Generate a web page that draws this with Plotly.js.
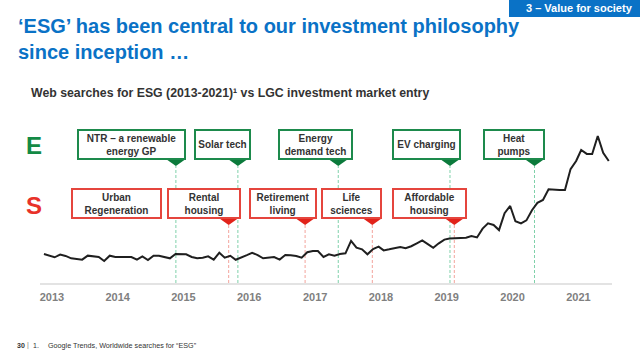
<!DOCTYPE html>
<html><head><meta charset="utf-8">
<script src="https://cdn.plot.ly/plotly-3.0.1.min.js"></script>
<style>html,body{margin:0;padding:0;background:#fff}#c{width:640px;height:351px}</style>
</head><body><div id="c"></div>
<script>
// Google Trends worldwide searches for "ESG", monthly Jan 2013 – Aug 2021 (index, peak = 100)
const startYear = 2013;
const esg2013 = [19.7, 18.6, 17.5, 19.3, 18.4, 16.8, 16.3, 15.9, 18.6, 18.1, 17.7, 15.0];
const esg2014 = [18.6, 17.7, 17.7, 17.7, 17.7, 15.9, 18.1, 15.6, 18.6, 18.6, 17.7, 16.8];
const esg2015 = [19.7, 19.7, 19.5, 17.7, 16.8, 17.2, 18.1, 15.9, 20.6, 17.2, 18.5, 15.8];
const esg2016 = [17.2, 19.0, 20.6, 19.0, 16.8, 17.5, 17.7, 15.9, 19.0, 18.8, 18.4, 17.2];
const esg2017 = [20.9, 21.8, 21.8, 17.7, 19.5, 18.6, 19.7, 20.2, 28.6, 24.0, 22.9, 19.5];
const esg2018 = [23.1, 24.7, 22.2, 22.9, 23.6, 24.5, 23.6, 25.0, 27.0, 29.0, 26.5, 24.0];
const esg2019 = [27.0, 29.5, 30.2, 30.5, 30.6, 30.8, 32.0, 31.0, 37.0, 40.6, 39.5, 36.0];
const esg2020 = [47.5, 52.4, 42.0, 40.5, 42.6, 49.5, 54.5, 56.5, 63.7, 63.3, 63.3, 63.3];
const esg2021 = [77.5, 83.0, 90.5, 87.8, 87.8, 100, 88.5, 83.0];

const yearLabels = ['2013','2014','2015','2016','2017','2018','2019','2020','2021'];

// LGC investment market entries
const eventNames = ['NTR – a renewable<br>energy GP','Solar tech','Energy<br>demand tech','EV charging','Heat<br>pumps',
                    'Urban<br>Regeneration','Rental<br>housing','Retirement<br>living','Life<br>sciences','Affordable<br>housing'];
const eventRows  = ['E','E','E','E','E','S','S','S','S','S'];
const eventDates = ['2015-01-03','2015-12-13','2017-06-22','2019-03-04','2020-06-15',
                    null,'2015-10-23','2016-12-20','2017-12-28','2019-03-28'];

// ---- build series ----
const values = [].concat(esg2013, esg2014, esg2015, esg2016, esg2017, esg2018, esg2019, esg2020, esg2021);
const dates = values.map((v, i) => {
  const y = startYear + Math.floor(i / 12), m = i % 12 + 1;
  return y + '-' + String(m).padStart(2, '0') + '-01';
});

// ---- layout helpers (pixel -> paper) ----
const L = 40, R = 28, T = 120, B = 68, PW = 640 - L - R, PH = 351 - T - B;
const px = p => (p - L) / PW;
const py = p => (351 - B - p) / PH;

const FONT = 'Arial, "Liberation Sans", sans-serif';
const GREEN = '#1d8a4c', GREEN_DARK = '#0b7a3b', GREEN_LINE = '#7fd1aa';
const RED = '#e5453d', RED_DARK = '#e2231a', RED_LINE = '#f3a49c';
const BLUE = '#0a72c6';

// box geometry (left, right) in px per event; rows share top/bottom
const boxLeft  = [77, 194, 278, 392, 483, 71, 167, 249, 321, 392];
const boxRight = [186, 251, 353, 461, 545, 162, 241, 317, 382, 467];
const rowTop = {E: 129, S: 188}, rowBottom = {E: 160, S: 219};

const annotations = [];
const shapes = [];

eventNames.forEach((name, i) => {
  const row = eventRows[i];
  const isE = row === 'E';
  const w = boxRight[i] - boxLeft[i], h = rowBottom[row] - rowTop[row];
  annotations.push({
    xref: 'paper', yref: 'paper', x: px(boxLeft[i]), y: py(rowTop[row]),
    xanchor: 'left', yanchor: 'top', showarrow: false,
    text: name, width: w - 4, height: h - 4, borderwidth: 2, borderpad: 0,
    bordercolor: isE ? GREEN : RED, bgcolor: '#ffffff', align: 'center', valign: 'middle',
    font: {family: FONT, size: 10, color: '#333333', weight: 'bold'}
  });
  if (eventDates[i]) {
    const top = rowBottom[row], apex = top + 6;
    shapes.push({
      type: 'line', xref: 'x', yref: 'paper', x0: eventDates[i], x1: eventDates[i],
      y0: 0, y1: py(apex), layer: 'below',
      line: {color: isE ? GREEN_LINE : RED_LINE, width: 1, dash: '3px,2px'}
    });
    shapes.push({
      type: 'path', xref: 'x', yref: 'paper', xsizemode: 'pixel', xanchor: eventDates[i],
      path: 'M -8.5,' + py(top) + ' L 8.5,' + py(top) + ' L 0,' + py(apex) + ' Z',
      fillcolor: isE ? GREEN_DARK : RED_DARK, line: {width: 0}
    });
  }
});

// row letters
annotations.push({xref:'paper', yref:'paper', x: px(34), y: py(145), showarrow:false, text:'E',
  font:{family:FONT, size:24, color:'#138a45', weight:'bold'}, xanchor:'center', yanchor:'middle'});
annotations.push({xref:'paper', yref:'paper', x: px(34), y: py(205), showarrow:false, text:'S',
  font:{family:FONT, size:24, color:'#e8322a', weight:'bold'}, xanchor:'center', yanchor:'middle'});

// title
annotations.push({xref:'paper', yref:'paper', x: px(16), y: py(13), showarrow:false,
  text:'‘ESG’ has been central to our investment philosophy<br>since inception …',
  font:{family:FONT, size:20, color:BLUE, weight:'bold'}, xanchor:'left', yanchor:'top', align:'left'});

// subtitle
annotations.push({xref:'paper', yref:'paper', x: px(29), y: py(93), showarrow:false,
  text:'Web searches for ESG (2013-2021)¹ vs LGC investment market entry',
  font:{family:FONT, size:12.3, color:'#333333', weight:'bold'}, xanchor:'left', yanchor:'middle'});

// badge
shapes.push({type:'rect', xref:'paper', yref:'paper', x0: px(509), x1: px(640), y0: py(17), y1: py(0),
  fillcolor: BLUE, line:{width:0}});
annotations.push({xref:'paper', yref:'paper', x: px(635), y: py(8.5), showarrow:false,
  text:'3 – Value for society', font:{family:FONT, size:11, color:'#ffffff', weight:'bold'},
  xanchor:'right', yanchor:'middle'});

// footer
annotations.push({xref:'paper', yref:'paper', x: px(15), y: py(345), showarrow:false,
  text:'30', font:{family:FONT, size:7, color:'#333333', weight:'bold'}, xanchor:'left', yanchor:'middle'});
annotations.push({xref:'paper', yref:'paper', x: px(25), y: py(345), showarrow:false,
  text:'|', font:{family:FONT, size:7, color:'#777777'}, xanchor:'left', yanchor:'middle'});
annotations.push({xref:'paper', yref:'paper', x: px(31), y: py(345), showarrow:false,
  text:'1.', font:{family:FONT, size:7, color:'#333333'}, xanchor:'left', yanchor:'middle'});
annotations.push({xref:'paper', yref:'paper', x: px(46), y: py(345), showarrow:false,
  text:'Google Trends, Worldwide searches for “ESG”', font:{family:FONT, size:7.2, color:'#333333'},
  xanchor:'left', yanchor:'middle'});

const trace = {
  x: dates, y: values, type: 'scatter', mode: 'lines',
  line: {color: '#1f1f1f', width: 2}, hoverinfo: 'skip'
};

const layout = {
  width: 640, height: 351,
  margin: {l: L, r: R, t: T, b: B, pad: 0},
  paper_bgcolor: '#ffffff', plot_bgcolor: '#ffffff',
  showlegend: false,
  xaxis: {
    type: 'date', range: ['2012-12-10', '2021-08-19'],
    tickvals: yearLabels.map(y => y + '-02-14'), ticktext: yearLabels,
    showgrid: false, zeroline: false, ticks: '', ticklabelstandoff: 3,
    showline: true, linecolor: '#e3e3e3', linewidth: 1.5,
    tickfont: {family: FONT, size: 11, color: '#808080', weight: 'bold'}
  },
  yaxis: {
    range: [0, PH / 1.47], showgrid: false, zeroline: false, showticklabels: false, showline: false, ticks: ''
  },
  shapes: shapes,
  annotations: annotations
};

Plotly.newPlot('c', [trace], layout, {staticPlot: true, displayModeBar: false});
</script>
</body></html>
